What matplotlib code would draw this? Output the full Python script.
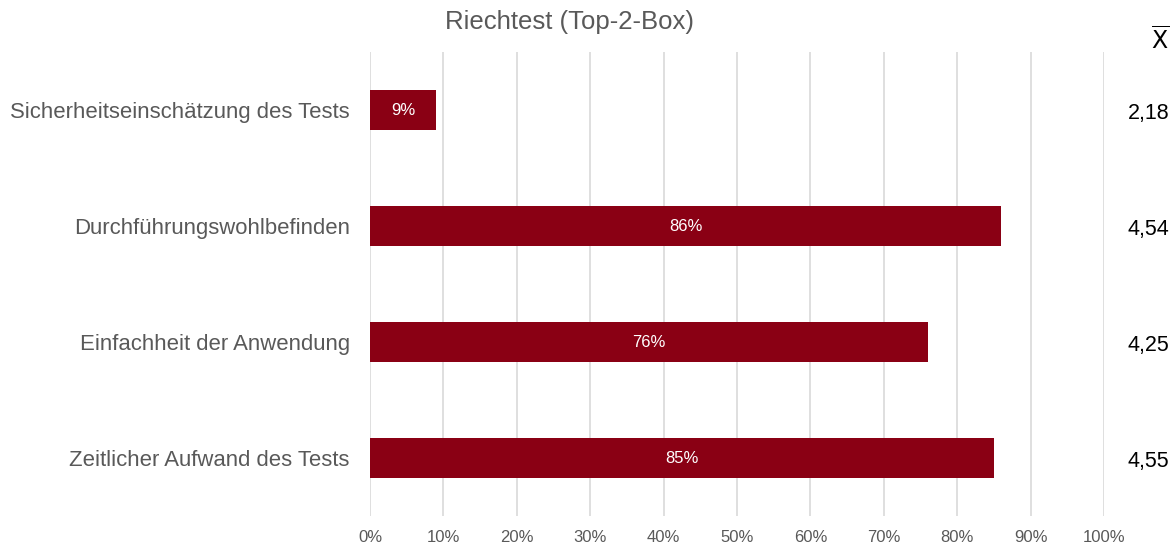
import matplotlib.pyplot as plt
from matplotlib.ticker import PercentFormatter

plt.rcParams['font.family'] = ['Liberation Sans', 'DejaVu Sans']

kategorien = ['Sicherheitseinschätzung des Tests', 'Durchführungswohlbefinden',
              'Einfachheit der Anwendung', 'Zeitlicher Aufwand des Tests']
top2box = [9, 86, 76, 85]
mittelwerte = ['2,18', '4,54', '4,25', '4,55']

fig = plt.figure(figsize=(11.75, 5.44), dpi=100)
ax = fig.add_axes([0.3149, 0.0515, 0.6247, 0.8525])

pos = list(range(len(kategorien)))
bars = ax.barh(pos, top2box, height=0.345, color='#8a0014', zorder=3)
for b, v in zip(bars, top2box):
    ax.text(v / 2, b.get_y() + b.get_height() / 2, f'{v}%', ha='center', va='center',
            color='white', fontsize=12, zorder=4)

ax.set_xlim(0, 100)
ax.set_ylim(3.5, -0.5)
ax.set_xticks(range(0, 101, 10))
ax.xaxis.set_major_formatter(PercentFormatter(decimals=0))
ax.set_yticks(pos)
ax.set_yticklabels(kategorien, fontsize=15.9, color='#595959')
ax.tick_params(axis='x', labelsize=12, labelcolor='#595959', length=0, pad=10)
ax.tick_params(axis='y', length=0, pad=14.5)
ax.grid(axis='x', color='#d9d9d9', linewidth=1.2, zorder=0)
for s in ax.spines.values():
    s.set_visible(False)

fig.text(0.485, 0.959, 'Riechtest (Top-2-Box)', ha='center', va='center',
         fontsize=18.5, color='#595959')

# Mittelwerte rechts neben dem Diagramm, etwas unter der Balkenmitte
for p, m in zip(pos, mittelwerte):
    y_fig = fig.transFigure.inverted().transform(ax.transData.transform((0, p)))[1]
    fig.text(0.995, y_fig - 0.006, m, ha='right', va='center',
             fontsize=15.5, color='black')
fig.text(0.995, 0.925, r'$\overline{\mathrm{X}}$', ha='right', va='center', fontsize=17)

fig.savefig('out.png', dpi=100)
